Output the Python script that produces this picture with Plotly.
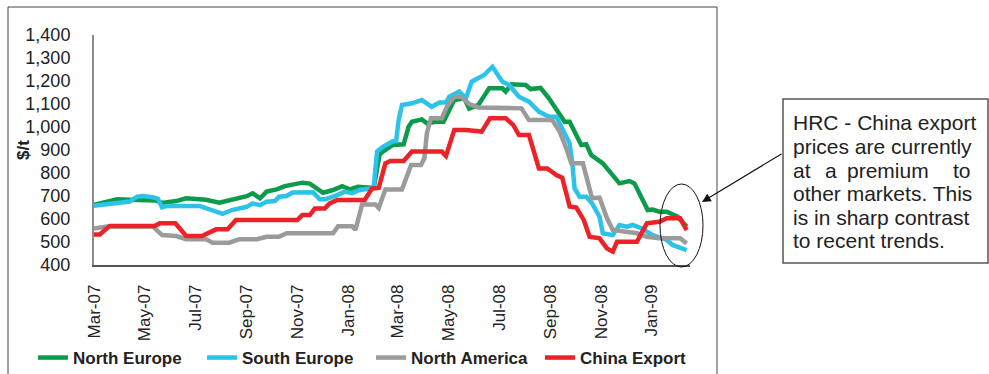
import plotly.graph_objects as go

# ---------------- data ----------------
north_europe = [
    ("2007-03-01", 662), ("2007-03-29", 686), ("2007-04-13", 684), ("2007-05-15", 680),
    ("2007-05-22", 670), ("2007-06-08", 678), ("2007-06-20", 690), ("2007-07-06", 686),
    ("2007-07-14", 684), ("2007-07-30", 671), ("2007-08-14", 684), ("2007-09-01", 699),
    ("2007-09-08", 712), ("2007-09-17", 690), ("2007-09-25", 719), ("2007-10-07", 729),
    ("2007-10-17", 743), ("2007-11-07", 758), ("2007-11-16", 754), ("2007-12-02", 714),
    ("2007-12-14", 726), ("2007-12-25", 743), ("2008-01-03", 729), ("2008-01-13", 740),
    ("2008-01-24", 737), ("2008-02-01", 735), ("2008-02-08", 880), ("2008-02-12", 893),
    ("2008-02-24", 922), ("2008-03-08", 925), ("2008-03-14", 1001), ("2008-03-18", 1023),
    ("2008-03-30", 1033), ("2008-04-05", 1016), ("2008-04-16", 1023), ("2008-04-25", 1023),
    ("2008-05-02", 1074), ("2008-05-08", 1117), ("2008-05-20", 1125), ("2008-05-26", 1080),
    ("2008-06-06", 1096), ("2008-06-19", 1168), ("2008-07-05", 1168), ("2008-07-09", 1154),
    ("2008-07-16", 1186), ("2008-08-02", 1183), ("2008-08-08", 1165), ("2008-08-20", 1170),
    ("2008-08-30", 1125), ("2008-09-12", 1059), ("2008-09-18", 1023), ("2008-09-24", 1023),
    ("2008-09-30", 980), ("2008-10-08", 922), ("2008-10-14", 925), ("2008-10-20", 878),
    ("2008-11-03", 842), ("2008-11-23", 755), ("2008-12-05", 765), ("2008-12-11", 755),
    ("2008-12-20", 690), ("2008-12-27", 639), ("2009-01-02", 641), ("2009-01-10", 632),
    ("2009-01-19", 632), ("2009-02-01", 610), ("2009-02-12", 567),
]

south_europe = [
    ("2007-03-01", 658), ("2007-03-20", 665), ("2007-04-05", 675), ("2007-04-13", 676),
    ("2007-04-22", 697), ("2007-04-29", 700), ("2007-05-11", 695), ("2007-05-17", 688),
    ("2007-05-22", 651), ("2007-05-28", 657), ("2007-07-06", 657), ("2007-07-22", 635),
    ("2007-08-03", 622), ("2007-08-14", 639), ("2007-09-01", 653), ("2007-09-08", 668),
    ("2007-09-17", 660), ("2007-09-25", 675), ("2007-10-05", 678), ("2007-10-10", 697),
    ("2007-10-19", 700), ("2007-10-26", 715), ("2007-11-20", 716), ("2007-11-28", 686),
    ("2007-12-05", 686), ("2007-12-19", 704), ("2007-12-28", 719), ("2008-01-06", 712),
    ("2008-01-15", 726), ("2008-01-30", 733), ("2008-02-01", 740), ("2008-02-05", 893),
    ("2008-02-12", 914), ("2008-02-23", 936), ("2008-02-28", 940), ("2008-03-02", 1030),
    ("2008-03-06", 1096), ("2008-03-18", 1103), ("2008-03-30", 1117), ("2008-04-11", 1088),
    ("2008-04-20", 1106), ("2008-04-28", 1106), ("2008-05-02", 1132), ("2008-05-14", 1154),
    ("2008-05-22", 1125), ("2008-05-29", 1197), ("2008-06-05", 1212), ("2008-06-13", 1226),
    ("2008-06-23", 1262), ("2008-06-29", 1226), ("2008-07-05", 1197), ("2008-07-13", 1183),
    ("2008-07-25", 1132), ("2008-08-06", 1110), ("2008-08-18", 1067), ("2008-08-30", 1045),
    ("2008-09-08", 1045), ("2008-09-15", 994), ("2008-09-24", 929), ("2008-09-27", 849),
    ("2008-09-30", 733), ("2008-10-06", 697), ("2008-10-14", 697), ("2008-10-21", 668),
    ("2008-10-30", 610), ("2008-11-03", 538), ("2008-11-15", 530), ("2008-11-23", 574),
    ("2008-12-02", 567), ("2008-12-09", 574), ("2008-12-20", 559), ("2009-01-02", 530),
    ("2009-01-19", 509), ("2009-01-26", 487), ("2009-02-12", 465),
]

north_america = [
    ("2007-03-01", 559), ("2007-03-17", 567), ("2007-05-11", 567), ("2007-05-22", 530),
    ("2007-06-08", 526), ("2007-06-20", 512), ("2007-07-14", 512), ("2007-07-22", 497),
    ("2007-08-11", 497), ("2007-08-23", 512), ("2007-09-13", 512), ("2007-09-25", 523),
    ("2007-10-10", 523), ("2007-10-19", 538), ("2007-12-14", 538), ("2007-12-20", 568),
    ("2008-01-06", 568), ("2008-01-10", 553), ("2008-01-18", 663), ("2008-02-03", 663),
    ("2008-02-07", 648), ("2008-02-15", 728), ("2008-03-06", 728), ("2008-03-12", 784),
    ("2008-03-17", 835), ("2008-03-29", 835), ("2008-04-02", 864), ("2008-04-05", 973),
    ("2008-04-10", 1038), ("2008-04-23", 1038), ("2008-04-29", 1088), ("2008-05-08", 1132),
    ("2008-05-16", 1132), ("2008-05-26", 1100), ("2008-06-06", 1085), ("2008-07-28", 1081),
    ("2008-08-06", 1030), ("2008-09-03", 1030), ("2008-09-12", 980), ("2008-09-20", 907),
    ("2008-09-26", 842), ("2008-10-10", 842), ("2008-10-18", 726), ("2008-10-21", 690),
    ("2008-10-30", 693), ("2008-11-08", 603), ("2008-11-15", 552), ("2008-12-02", 545),
    ("2008-12-14", 538), ("2008-12-26", 523), ("2009-01-10", 516), ("2009-02-04", 516),
    ("2009-02-12", 494),
]

china_export = [
    ("2007-03-01", 533), ("2007-03-08", 533), ("2007-03-20", 570), ("2007-05-13", 570),
    ("2007-05-19", 581), ("2007-06-07", 581), ("2007-06-20", 526), ("2007-07-09", 526),
    ("2007-07-26", 555), ("2007-08-09", 555), ("2007-08-19", 596), ("2007-09-20", 598),
    ("2007-09-29", 596), ("2007-11-01", 596), ("2007-11-07", 617), ("2007-11-16", 617),
    ("2007-11-22", 646), ("2007-12-04", 646), ("2007-12-10", 668), ("2007-12-19", 683),
    ("2008-01-21", 683), ("2008-01-30", 733), ("2008-02-07", 735), ("2008-02-15", 842),
    ("2008-02-21", 852), ("2008-03-08", 852), ("2008-03-18", 893), ("2008-04-23", 893),
    ("2008-04-28", 874), ("2008-05-08", 987), ("2008-05-22", 987), ("2008-06-10", 980),
    ("2008-06-20", 1038), ("2008-07-09", 1038), ("2008-07-18", 1009), ("2008-07-25", 965),
    ("2008-08-06", 965), ("2008-08-18", 820), ("2008-08-28", 820), ("2008-09-08", 791),
    ("2008-09-15", 780), ("2008-09-24", 654), ("2008-10-02", 650), ("2008-10-11", 596),
    ("2008-10-18", 523), ("2008-10-30", 516), ("2008-11-08", 472), ("2008-11-15", 458),
    ("2008-11-20", 501), ("2008-12-14", 501), ("2008-12-26", 581), ("2009-01-10", 588),
    ("2009-01-19", 603), ("2009-02-04", 603), ("2009-02-12", 552),
]

series_names = ["North Europe", "South Europe", "North America", "China Export"]
series_data = [north_europe, south_europe, north_america, china_export]
series_colors = ["#0B9B4A", "#2CC3EA", "#9B9B9B", "#EC2229"]

x_tick_dates = ["2007-03-01", "2007-05-01", "2007-07-01", "2007-09-01", "2007-11-01",
                "2008-01-01", "2008-03-01", "2008-05-01", "2008-07-01", "2008-09-01",
                "2008-11-01", "2009-01-01"]
y_tick_values = [400, 500, 600, 700, 800, 900, 1000, 1100, 1200, 1300, 1400]
y_title = "$/t"

note_lines = ["HRC - China export", "prices are currently", None,
              "other markets. This", "is in sharp contrast", "to recent trends."]
note_spread_words = ["at", "a", "premium", "to"]

# ---------------- layout helpers (pixel -> paper) ----------------
W, H = 989, 374
L, R, T, B = 94, 690, 35, 265


def px(x):
    return (x - L) / (R - L)


def py(y):
    return (B - y) / (B - T)


FONT = "Liberation Sans, Arial, sans-serif"

fig = go.Figure()
for name, data, color in zip(series_names, series_data, series_colors):
    fig.add_trace(go.Scatter(
        x=[d for d, _ in data], y=[v for _, v in data],
        mode="lines", name=name,
        line=dict(color=color, width=4.5),
    ))

fig.update_layout(
    width=W, height=H,
    margin=dict(l=L, r=W - R, t=T, b=H - B, pad=0, autoexpand=False),
    paper_bgcolor="white", plot_bgcolor="white",
    font=dict(family=FONT, color="#222"),
    showlegend=True,
    legend=dict(
        orientation="h", x=px(33), xanchor="left", y=py(358), yanchor="middle",
        font=dict(family=FONT, size=17, color="#222", weight="bold"),
        itemwidth=30, tracegroupgap=0, bgcolor="rgba(0,0,0,0)",
        entrywidth=124, entrywidthmode="pixels",
    ),
)

fig.update_xaxes(
    type="date", range=["2007-03-01", "2009-02-16"],
    tickvals=x_tick_dates, tickformat="%b-%y", tickangle=-90,
    tickfont=dict(family=FONT, size=17, color="#222"),
    showline=True, linecolor="#555", linewidth=1.5,
    showgrid=False, zeroline=False, ticks="", ticklabelstandoff=11,
    automargin=False,
)
fig.update_yaxes(
    range=[400, 1400], tickvals=y_tick_values, tickformat=",",
    tickfont=dict(family=FONT, size=18, color="#222"),
    showline=True, linecolor="#8c8c8c", linewidth=2,
    showgrid=False, zeroline=False, ticks="", ticklabelstandoff=18,
    automargin=False,
)

shapes = []
# outer chart frame
shapes.append(dict(type="rect", xref="paper", yref="paper",
                   x0=px(8), x1=px(717), y0=py(380), y1=py(7),
                   line=dict(color="#444", width=1), fillcolor="rgba(0,0,0,0)"))
# note box
shapes.append(dict(type="rect", xref="paper", yref="paper",
                   x0=px(783), x1=px(988), y0=py(263), y1=py(99),
                   line=dict(color="#555", width=1.5), fillcolor="white"))
# ellipse highlighting latest prices
shapes.append(dict(type="circle", xref="paper", yref="paper",
                   x0=px(660), x1=px(703), y0=py(267), y1=py(184),
                   line=dict(color="#111", width=1)))
fig.update_layout(shapes=shapes)

annotations = []
# y-axis title
annotations.append(dict(text=y_title, xref="paper", yref="paper", x=px(23), y=py(150),
                        xanchor="center", yanchor="middle", textangle=-90, showarrow=False,
                        font=dict(family=FONT, size=17, color="#222", weight="bold")))
line_y = [122, 146, 170, 193, 217, 240]
NOTE_SIZE = 21
for text, yy in zip(note_lines, line_y):
    if text is None:
        continue
    annotations.append(dict(text=text, xref="paper", yref="paper", x=px(791), y=py(yy),
                            xanchor="left", yanchor="middle", showarrow=False,
                            font=dict(family=FONT, size=NOTE_SIZE, color="#222")))
# justified line "at a premium to"
for word, xx, anchor in zip(note_spread_words, [791, 823, 845, 973],
                            ["left", "left", "left", "right"]):
    annotations.append(dict(text=word, xref="paper", yref="paper", x=px(xx), y=py(line_y[2]),
                            xanchor=anchor, yanchor="middle", showarrow=False,
                            font=dict(family=FONT, size=NOTE_SIZE, color="#222")))
# arrow from note box to ellipse
annotations.append(dict(text="", xref="paper", yref="paper", x=px(702), y=py(202),
                        ax=81, ay=-49, showarrow=True, arrowhead=2, arrowsize=1.6,
                        arrowwidth=1.1, arrowcolor="#111"))
fig.update_layout(annotations=annotations)

fig.write_html("out.html")
